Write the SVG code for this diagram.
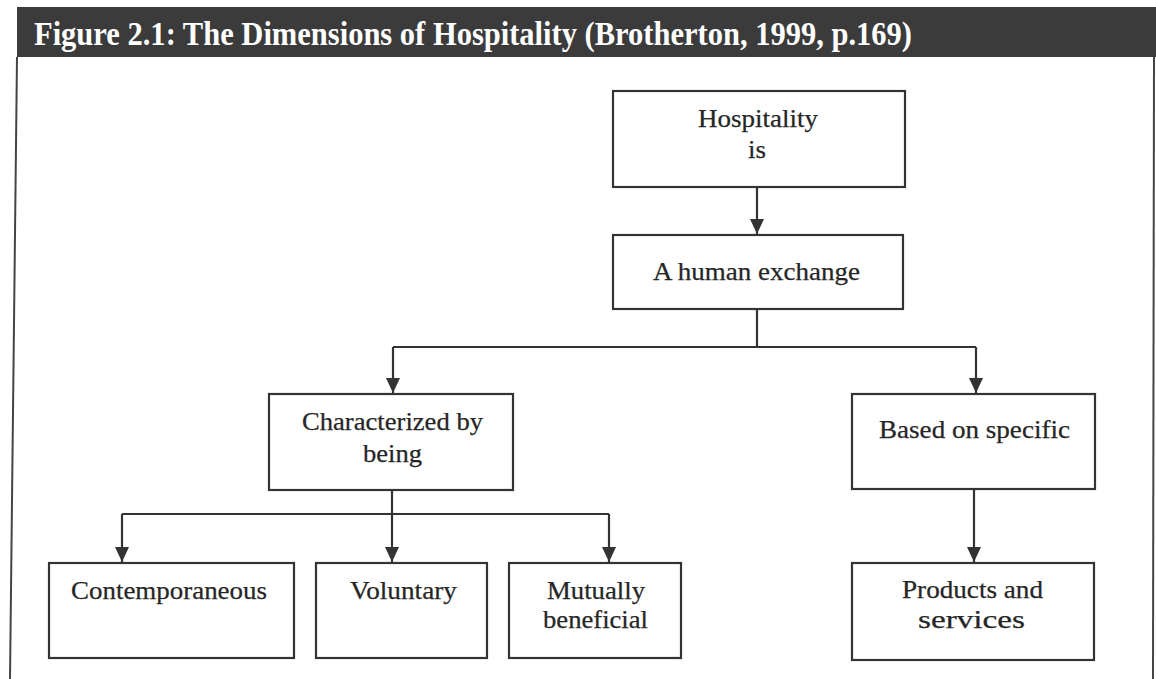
<svg xmlns="http://www.w3.org/2000/svg" width="1156" height="679" viewBox="0 0 1156 679">
<style>
.box{fill:#fff;stroke:#333;stroke-width:2.2}
.lbl{font-family:"Liberation Serif","Times New Roman",serif;font-size:25px;fill:#262626;stroke:#262626;stroke-width:0.25}
.conn{fill:none;stroke:#333;stroke-width:2.2}
.frame{stroke:#444;stroke-width:2;fill:none}
</style>
<defs>
<marker id="arr" markerUnits="userSpaceOnUse" markerWidth="16" markerHeight="16" viewBox="0 0 16 16" refX="15" refY="8" orient="auto">
<path d="M0,1 L15,8 L0,15 Z" fill="#333"/>
</marker>
</defs>
<rect width="1156" height="679" fill="#fff"/>
<g id="frame">
<rect x="17" y="7" width="1139" height="50" fill="#3b3b3b"/>
<line class="frame" x1="17" y1="57" x2="10" y2="679"/>
<line class="frame" x1="1154" y1="57" x2="1153" y2="679"/>
<text x="34" y="45" font-family="'Liberation Serif','Times New Roman',serif" font-weight="bold" font-size="34" fill="#fff" textLength="878" lengthAdjust="spacingAndGlyphs">Figure 2.1: The Dimensions of Hospitality (Brotherton, 1999, p.169)</text>
</g>
<g id="connectors">
<path class="conn" d="M757,187 V234" marker-end="url(#arr)"/>
<path class="conn" d="M757,309 V347 M393,347 H976"/>
<path class="conn" d="M393,347 V393" marker-end="url(#arr)"/>
<path class="conn" d="M976,347 V393" marker-end="url(#arr)"/>
<path class="conn" d="M392,490 V514 M122,514 H609"/>
<path class="conn" d="M122,514 V562" marker-end="url(#arr)"/>
<path class="conn" d="M392,514 V562" marker-end="url(#arr)"/>
<path class="conn" d="M609,514 V562" marker-end="url(#arr)"/>
<path class="conn" d="M974,489 V562" marker-end="url(#arr)"/>
</g>
<g id="n-hospitality">
<rect class="box" x="613" y="91" width="292" height="96"/>
<text class="lbl" x="698" y="127" textLength="120" lengthAdjust="spacingAndGlyphs">Hospitality</text>
<text class="lbl" x="748" y="158" textLength="18" lengthAdjust="spacingAndGlyphs">is</text>
</g>
<g id="n-exchange">
<rect class="box" x="613" y="235" width="290" height="74"/>
<text class="lbl" x="653" y="280" textLength="207" lengthAdjust="spacingAndGlyphs">A human exchange</text>
</g>
<g id="n-characterized">
<rect class="box" x="269" y="394" width="244" height="96"/>
<text class="lbl" x="302" y="430" textLength="181" lengthAdjust="spacingAndGlyphs">Characterized by</text>
<text class="lbl" x="363" y="462" textLength="59" lengthAdjust="spacingAndGlyphs">being</text>
</g>
<g id="n-based">
<rect class="box" x="852" y="394" width="243" height="95"/>
<text class="lbl" x="879" y="438" textLength="191" lengthAdjust="spacingAndGlyphs">Based on specific</text>
</g>
<g id="n-contemporaneous">
<rect class="box" x="49" y="563" width="245" height="95"/>
<text class="lbl" x="71" y="599" textLength="196" lengthAdjust="spacingAndGlyphs">Contemporaneous</text>
</g>
<g id="n-voluntary">
<rect class="box" x="316" y="563" width="171" height="95"/>
<text class="lbl" x="350" y="599" textLength="107" lengthAdjust="spacingAndGlyphs">Voluntary</text>
</g>
<g id="n-mutually">
<rect class="box" x="509" y="563" width="172" height="95"/>
<text class="lbl" x="547" y="599" textLength="98" lengthAdjust="spacingAndGlyphs">Mutually</text>
<text class="lbl" x="543" y="628" textLength="105" lengthAdjust="spacingAndGlyphs">beneficial</text>
</g>
<g id="n-products">
<rect class="box" x="852" y="563" width="242" height="97"/>
<text class="lbl" x="902" y="598" textLength="141" lengthAdjust="spacingAndGlyphs">Products and</text>
<text class="lbl" x="918" y="628" textLength="107" lengthAdjust="spacingAndGlyphs">services</text>
</g>
</svg>
